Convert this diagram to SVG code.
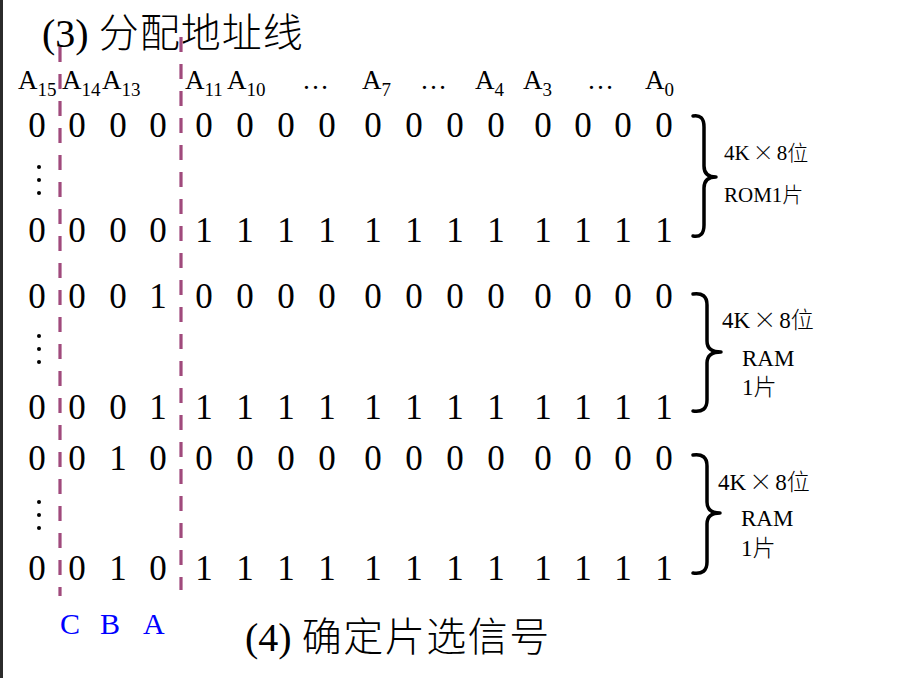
<svg xmlns="http://www.w3.org/2000/svg" width="924" height="678" viewBox="0 0 924 678">
<style>
text{font-family:"Liberation Serif","Noto Sans CJK SC",serif;fill:#000}
.t{font-size:40px}
.c{font-family:"Noto Sans CJK SC",sans-serif;font-weight:300}
.ls{letter-spacing:1px}
.ls2{letter-spacing:1.5px}
.h{font-size:27px}
.s{font-size:19px}
.d{font-size:35px}
.n{font-size:21px}
.m{font-size:23px}
.cba{font-size:30px;fill:#0000ff}
.x{font-family:"Noto Sans CJK SC","Liberation Serif",sans-serif;font-weight:300}
.dash{stroke:#a04a7c;stroke-width:3.2;stroke-dasharray:15 12;fill:none}
.brace{stroke:#000;stroke-width:3.5;fill:none;stroke-linecap:round;stroke-linejoin:round}
</style>
<rect x="0" y="0" width="924" height="678" fill="#fff"/>
<rect x="0" y="0" width="3" height="678" fill="#2b2b2b"/>

<g id="title">
<text class="t" x="42" y="47">(3) <tspan class="c ls">分配地址线</tspan></text>
</g>

<g id="header">
<text class="h" x="18" y="89">A<tspan class="s" dy="7">15</tspan></text>
<text class="h" x="62" y="89">A<tspan class="s" dy="7">14</tspan></text>
<text class="h" x="102" y="89">A<tspan class="s" dy="7">13</tspan></text>
<text class="h" x="185" y="89">A<tspan class="s" dy="7">11</tspan></text>
<text class="h" x="227" y="89">A<tspan class="s" dy="7">10</tspan></text>
<text class="h" x="302" y="89">…</text>
<text class="h" x="362" y="89">A<tspan class="s" dy="7">7</tspan></text>
<text class="h" x="420" y="89">…</text>
<text class="h" x="475" y="89">A<tspan class="s" dy="7">4</tspan></text>
<text class="h" x="523" y="89">A<tspan class="s" dy="7">3</tspan></text>
<text class="h" x="587" y="89">…</text>
<text class="h" x="645" y="89">A<tspan class="s" dy="7">0</tspan></text>
</g>

<g id="rows" text-anchor="middle">
<text class="d" y="137" x="37 77 118 158 204 245 286 327 373 414 455 496 543 583 623 664">0000000000000000</text>
<text class="d" y="242" x="37 77 118 158 204 245 286 327 373 414 455 496 543 583 623 664">0000111111111111</text>
<text class="d" y="308" x="37 77 118 158 204 245 286 327 373 414 455 496 543 583 623 664">0001000000000000</text>
<text class="d" y="419" x="37 77 118 158 204 245 286 327 373 414 455 496 543 583 623 664">0001111111111111</text>
<text class="d" y="470" x="37 77 118 158 204 245 286 327 373 414 455 496 543 583 623 664">0010000000000000</text>
<text class="d" y="580" x="37 77 118 158 204 245 286 327 373 414 455 496 543 583 623 664">0010111111111111</text>
</g>

<g id="vdots" fill="#000">
<circle cx="39" cy="167" r="2"/><circle cx="39" cy="180" r="2"/><circle cx="39" cy="193" r="2"/>
<circle cx="39" cy="336" r="2"/><circle cx="39" cy="349" r="2"/><circle cx="39" cy="362" r="2"/>
<circle cx="39" cy="502" r="2"/><circle cx="39" cy="515" r="2"/><circle cx="39" cy="528" r="2"/>
</g>

<g id="connectors">
<line class="dash" x1="60" y1="47" x2="60" y2="596"/>
<line class="dash" x1="181" y1="37" x2="181" y2="590"/>
<path class="brace" d="M693,116 Q704,114 704,127 L704,166 Q704,177 716,177 Q704,177 704,188 L704,225 Q704,238 693,236"/>
<path class="brace" d="M693,294 Q707,292 707,305 L707,341 Q707,352 721,352 Q707,352 707,363 L707,400 Q707,413 693,411"/>
<path class="brace" d="M693,455 Q707,453 707,466 L707,502 Q707,513 720,513 Q707,513 707,524 L707,562 Q707,575 693,573"/>
</g>

<g id="rom1">
<text class="n" x="724" y="160">4K<tspan class="x" dx="3">×</tspan><tspan dx="3">8</tspan><tspan class="c">位</tspan></text>
<text class="n" x="724" y="202">ROM1<tspan class="c">片</tspan></text>
</g>
<g id="ram1">
<text class="m" x="722" y="328">4K<tspan class="x" dx="3">×</tspan><tspan dx="3">8</tspan><tspan class="c">位</tspan></text>
<text class="m" x="742" y="366">RAM</text>
<text class="m" x="742" y="395">1<tspan class="c">片</tspan></text>
</g>
<g id="ram2">
<text class="m" x="718" y="490">4K<tspan class="x" dx="3">×</tspan><tspan dx="3">8</tspan><tspan class="c">位</tspan></text>
<text class="m" x="741" y="526">RAM</text>
<text class="m" x="741" y="556">1<tspan class="c">片</tspan></text>
</g>

<g id="cba">
<text class="cba" x="60" y="634">C</text>
<text class="cba" x="100" y="634">B</text>
<text class="cba" x="143" y="634">A</text>
</g>

<g id="footer">
<text class="t" x="245" y="651">(4) <tspan class="c ls2">确定片选信号</tspan></text>
</g>
</svg>
